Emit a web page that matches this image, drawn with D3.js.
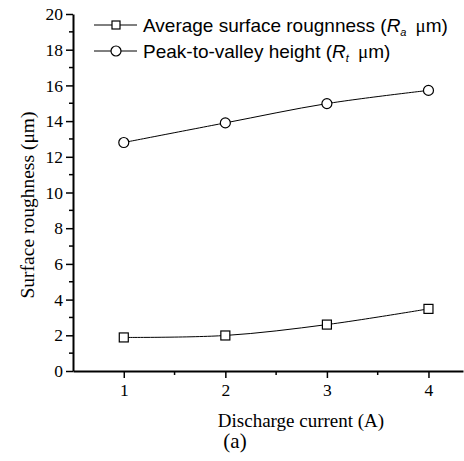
<!DOCTYPE html>
<html>
<head>
<meta charset="utf-8">
<script src="https://cdn.jsdelivr.net/npm/d3@7"></script>
<style>
  body { margin: 0; background: #fff; }
  svg { display: block; }
</style>
</head>
<body>
<div id="chart"></div>
<script>
// chart values
let current = [1, 2, 3, 4];
let ra = [1.88, 1.99, 2.6, 3.48];   // average surface roughness
let rt = [12.8, 13.9, 14.98, 15.72]; // peak-to-valley height
let yTicks = [0, 2, 4, 6, 8, 10, 12, 14, 16, 18, 20];
let xTicks = [1, 2, 3, 4];

let w = 464, h = 461;
let svg = d3.select("#chart").append("svg").attr("width", w).attr("height", h);

// scales
let x = d3.scaleLinear().domain([0.5, 4.34]).range([73, 463]);
let y = d3.scaleLinear().domain([0, 20]).range([371, 14]);

let serif = "'Liberation Serif', 'Times New Roman', serif";
let sans = "'Liberation Sans', Arial, sans-serif";

// y axis
let yAxis = svg.append("g").attr("transform", "translate(73,0)")
  .call(d3.axisLeft(y).tickValues(yTicks).tickSize(7).tickSizeOuter(0).tickPadding(3));
yAxis.selectAll("text").style("font-family", serif).style("font-size", "17.5px").attr("fill", "#000");
// minor ticks
svg.append("g").selectAll("line").data(d3.range(1, 20, 2)).enter().append("line")
  .attr("x1", 73).attr("x2", 69)
  .attr("y1", d => y(d)).attr("y2", d => y(d))
  .attr("stroke", "#000").attr("stroke-width", 1.5);

// x axis
let xAxis = svg.append("g").attr("transform", "translate(0,371)")
  .call(d3.axisBottom(x).tickValues(xTicks).tickSize(7).tickSizeOuter(0).tickPadding(6).tickFormat(d3.format("d")));
xAxis.selectAll("text").style("font-family", serif).style("font-size", "17.5px").attr("fill", "#000");
svg.append("g").selectAll("line").data([1.5, 2.5, 3.5]).enter().append("line")
  .attr("x1", d => x(d)).attr("x2", d => x(d))
  .attr("y1", 371).attr("y2", 375)
  .attr("stroke", "#000").attr("stroke-width", 1.5);

svg.selectAll(".domain").attr("stroke-width", 2);
svg.selectAll(".tick line").attr("stroke-width", 1.5);

// lines
let line = d3.line().x(d => x(d[0])).y(d => y(d[1])).curve(d3.curveCatmullRom);
let raData = current.map((c, i) => [c, ra[i]]);
let rtData = current.map((c, i) => [c, rt[i]]);

svg.append("path").datum(raData).attr("d", line).attr("fill", "none").attr("stroke", "#000").attr("stroke-width", 1);
svg.append("path").datum(rtData).attr("d", line).attr("fill", "none").attr("stroke", "#000").attr("stroke-width", 1);

svg.selectAll(".sq").data(raData).enter().append("rect")
  .attr("x", d => x(d[0]) - 4.5).attr("y", d => y(d[1]) - 4.5)
  .attr("width", 9).attr("height", 9)
  .attr("fill", "#fff").attr("stroke", "#000").attr("stroke-width", 1.2);
svg.selectAll(".ci").data(rtData).enter().append("circle")
  .attr("cx", d => x(d[0])).attr("cy", d => y(d[1])).attr("r", 5)
  .attr("fill", "#fff").attr("stroke", "#000").attr("stroke-width", 1.2);

// legend
let leg = svg.append("g");
leg.append("line").attr("x1", 94).attr("x2", 137).attr("y1", 25).attr("y2", 25).attr("stroke", "#000");
leg.append("rect").attr("x", 112).attr("y", 21).attr("width", 8).attr("height", 8)
  .attr("fill", "#fff").attr("stroke", "#000").attr("stroke-width", 1.2);
leg.append("line").attr("x1", 94).attr("x2", 137).attr("y1", 51).attr("y2", 51).attr("stroke", "#000");
leg.append("circle").attr("cx", 116).attr("cy", 51).attr("r", 5)
  .attr("fill", "#fff").attr("stroke", "#000").attr("stroke-width", 1.2);

let t1 = leg.append("text").attr("x", 143).attr("y", 32).style("font-family", sans).style("font-size", "19px");
t1.append("tspan").text("Average surface rougnness (");
t1.append("tspan").style("font-style", "italic").text("R");
t1.append("tspan").style("font-style", "italic").style("font-size", "11px").attr("dy", 4).text("a");
t1.append("tspan").attr("dy", -4).text("\u2009 ");
t1.append("tspan").style("font-family", serif).text("\u03bc");
t1.append("tspan").text("m)");

let t2 = leg.append("text").attr("x", 143).attr("y", 58).style("font-family", sans).style("font-size", "19px");
t2.append("tspan").text("Peak-to-valley height (");
t2.append("tspan").style("font-style", "italic").text("R");
t2.append("tspan").style("font-style", "italic").style("font-size", "11px").attr("dy", 4).text("t");
t2.append("tspan").attr("dy", -4).text("\u2009 ");
t2.append("tspan").style("font-family", serif).text("\u03bc");
t2.append("tspan").text("m)");

// axis titles
svg.append("text").attr("x", 301).attr("y", 427).attr("text-anchor", "middle")
  .style("font-family", serif).style("font-size", "19px").text("Discharge current (A)");
svg.append("text").attr("x", 235).attr("y", 448).attr("text-anchor", "middle")
  .style("font-family", serif).style("font-size", "21px").text("(a)");
svg.append("text").attr("transform", "translate(34,205) rotate(-90)").attr("text-anchor", "middle")
  .style("font-family", serif).style("font-size", "19.5px").text("Surface roughness (\u03bcm)");
</script>
</body>
</html>
